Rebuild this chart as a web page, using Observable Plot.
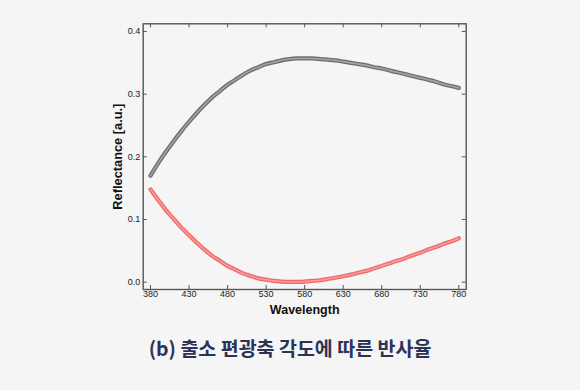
<!DOCTYPE html>
<html>
<head>
<meta charset="utf-8">
<script src="https://cdn.jsdelivr.net/npm/d3@7"></script>
<script src="https://cdn.jsdelivr.net/npm/@observablehq/plot@0.6"></script>
<style>
  html, body { margin: 0; padding: 0; background: #f5f5f5; }
  #wrap { position: relative; width: 580px; height: 390px; overflow: hidden; }
  #title { position: absolute; left: 0; width: 580px; top: 333px; text-align: center;
    font-family: "Noto Sans CJK KR", "Noto Sans", sans-serif; font-weight: 700; font-size: 19.5px;
    color: #2b3356; }
</style>
</head>
<body>
<div id="wrap">
  <div id="chart"></div>
  <div id="title">(b) 출소 편광축 각도에 따른 반사율</div>
</div>
<script>
const wavelengths = [380,390,400,410,420,430,440,450,460,470,480,490,500,510,520,530,540,550,560,570,580,590,600,610,620,630,640,650,660,670,680,690,700,710,720,730,740,750,760,770,780];
const blackSeries = [0.170,0.190,0.208,0.225,0.241,0.256,0.270,0.283,0.295,0.305,0.315,0.323,0.331,0.338,0.343,0.348,0.351,0.354,0.356,0.357,0.357,0.357,0.356,0.355,0.354,0.352,0.350,0.348,0.346,0.343,0.341,0.338,0.335,0.332,0.329,0.326,0.323,0.320,0.316,0.313,0.310];
const redSeries = [0.148,0.131,0.115,0.101,0.087,0.075,0.063,0.052,0.042,0.034,0.026,0.020,0.014,0.010,0.006,0.004,0.002,0.001,0.0005,0.0005,0.001,0.002,0.003,0.005,0.007,0.0095,0.012,0.015,0.018,0.022,0.026,0.030,0.034,0.038,0.043,0.047,0.052,0.056,0.061,0.065,0.070];
const xTicks = [380,430,480,530,580,630,680,730,780];
const yTicks = [0.0,0.1,0.2,0.3,0.4];

const black = wavelengths.map((w, i) => ({w, r: blackSeries[i]}));
const red = wavelengths.map((w, i) => ({w, r: redSeries[i]}));

const W = 580, H = 320;
const mt = 23.3, mb = 31, ml = 142.7, mr = 114.3;
const ph = H - mt - mb, pw = W - ml - mr;
const tk = 4;
const lblFont = "Liberation Sans, Arial, sans-serif";

const chart = Plot.plot({
  width: W, height: H,
  marginTop: mt, marginBottom: mb, marginLeft: ml, marginRight: mr,
  style: { background: "transparent", fontFamily: lblFont, fontSize: "9px", color: "#222" },
  x: { domain: [370.5, 789.6], ticks: xTicks, tickFormat: d => d, label: null },
  y: { domain: [-0.0117, 0.4123], ticks: yTicks, tickFormat: d3.format(".1f"), label: null },
  marks: [
    Plot.axisX(xTicks, { tickSize: 0, tickPadding: 1, label: null, tickFormat: d => d, fill: "#222" }),
    Plot.axisY(yTicks, { tickSize: 0, tickPadding: 3, label: null, tickFormat: d3.format(".1f"), fill: "#222" }),
    Plot.tickX(xTicks, { x: d => d, insetTop: ph - tk, stroke: "#555", strokeWidth: 1 }),
    Plot.tickX(xTicks, { x: d => d, insetBottom: ph - tk, stroke: "#555", strokeWidth: 1 }),
    Plot.tickY(yTicks, { y: d => d, insetRight: pw - tk, stroke: "#555", strokeWidth: 1 }),
    Plot.tickY(yTicks, { y: d => d, insetLeft: pw - tk, stroke: "#555", strokeWidth: 1 }),
    Plot.frame({ stroke: "#555", strokeWidth: 1.4 }),
    Plot.line(black, { x: "w", y: "r", curve: "natural", stroke: "#6e6e6e", strokeWidth: 4.2 }),
    Plot.line(black, { x: "w", y: "r", curve: "natural", stroke: "#b0b0b0", strokeWidth: 1.6, strokeOpacity: 0.8 }),
    Plot.line(red, { x: "w", y: "r", curve: "natural", stroke: "#f06a6a", strokeWidth: 4.2 }),
    Plot.line(red, { x: "w", y: "r", curve: "natural", stroke: "#f8a8a8", strokeWidth: 1.6, strokeOpacity: 0.8 }),
    Plot.text(["Wavelength"], { frameAnchor: "bottom", lineAnchor: "middle", textAnchor: "middle", dy: 20, fontWeight: "bold", fontSize: 12.5, fill: "#111", fontFamily: lblFont }),
    Plot.text(["Reflectance [a.u.]"], { frameAnchor: "left", lineAnchor: "middle", textAnchor: "middle", dx: -25, rotate: -90, fontWeight: "bold", fontSize: 12.8, fill: "#111", fontFamily: lblFont })
  ]
});
document.getElementById("chart").appendChild(chart);
</script>
</body>
</html>
